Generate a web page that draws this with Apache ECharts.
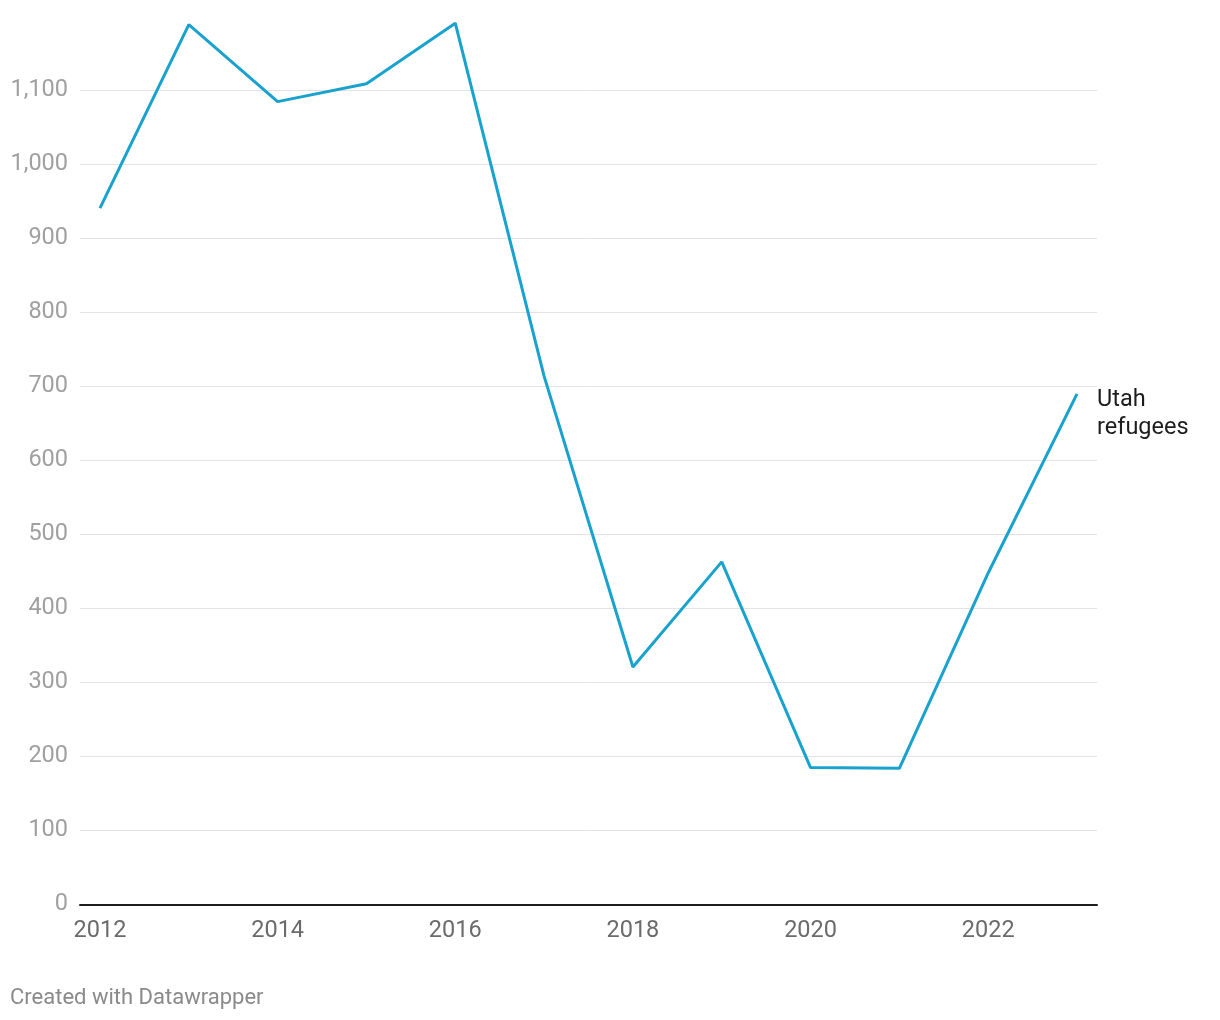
<!DOCTYPE html>
<html>
<head>
<meta charset="utf-8">
<script src="https://cdn.jsdelivr.net/npm/echarts@6/dist/echarts.min.js"></script>
<style>
html,body{margin:0;padding:0;background:#fff;}
#chart{width:1220px;height:1020px;}
</style>
</head>
<body>
<div id="chart"></div>
<script>
const years = [2012, 2013, 2014, 2015, 2016, 2017, 2018, 2019, 2020, 2021, 2022, 2023];
const refugees = [941, 1189, 1085, 1109, 1191, 714, 321, 463, 185, 184, 448, 690];
const xTickLabels = [2012, 2014, 2016, 2018, 2020, 2022];
const seriesName = 'Utah\nrefugees';

const chart = echarts.init(document.getElementById('chart'));
chart.setOption({
  animation: false,
  textStyle: { fontFamily: 'Roboto' },
  grid: { left: 80, right: 123, top: 16.5, bottom: 115.5 },
  xAxis: {
    type: 'value',
    min: 2011.775,
    max: 2023.225,
    axisLine: { show: true, lineStyle: { color: '#1d1d1d', width: 2 } },
    axisTick: { show: false },
    splitLine: { show: false },
    axisLabel: {
      customValues: xTickLabels,
      formatter: v => String(v),
      color: '#6b6b6b',
      fontSize: 23.5,
      fontFamily: 'Roboto',
      margin: 15
    }
  },
  yAxis: {
    type: 'value',
    min: 0,
    max: 1200,
    interval: 100,
    axisLine: { show: false },
    axisTick: { show: false },
    splitLine: { show: true, showMaxLine: false, lineStyle: { color: '#e3e3e3', width: 1 } },
    axisLabel: {
      showMaxLabel: false,
      color: '#a0a0a0',
      fontSize: 23.5,
      fontFamily: 'Roboto',
      margin: 12,
      formatter: v => v.toLocaleString('en-US')
    }
  },
  series: [{
    type: 'line',
    name: seriesName,
    data: years.map((y, i) => [y, refugees[i]]),
    symbol: 'none',
    lineStyle: { color: '#18a2cd', width: 3 },
    endLabel: {
      show: true,
      formatter: seriesName,
      color: '#1d1d1d',
      fontSize: 23.5,
      lineHeight: 28,
      fontFamily: 'Roboto',
      distance: 20,
      offset: [0, 20],
      align: 'left'
    }
  }],
  graphic: [{
    type: 'text',
    left: 10,
    top: 987,
    style: { text: 'Created with Datawrapper', fill: '#8a8a8a', fontSize: 22, fontFamily: 'Roboto' }
  }]
});
</script>
</body>
</html>
